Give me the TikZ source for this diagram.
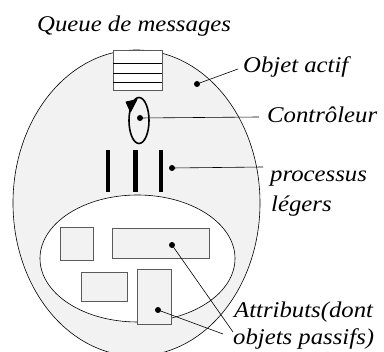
\documentclass[tikz,border=0pt]{standalone}
\usepackage{fontspec}
\setmainfont{Liberation Serif}[FakeStretch=1.1]
\usepackage{tikz}
\usetikzlibrary{arrows.meta, positioning, shapes.geometric}
\definecolor{objgray}{RGB}{242,242,242}
\definecolor{boxedge}{RGB}{90,90,90}

\begin{document}
\begin{tikzpicture}[x=1pt, y=-1pt,
  every node/.style={font=\fontsize{22.5}{25}\selectfont\itshape, inner sep=0pt},
  lbl/.style={anchor=base west},
  dot/.style={circle, fill=black, minimum size=6pt},
  attr/.style={draw=boxedge, fill=objgray, line width=0.8pt},
  lead/.style={line width=0.6pt}]
  \useasboundingbox (0,0) rectangle (384,352);
  \clip (0,0) rectangle (384,352);
  % objet actif et file de messages
  \node[ellipse, draw, fill=objgray, line width=0.6pt, minimum width=247pt, minimum height=306pt] (actif) at (136.5,203) {};
  \node[draw=boxedge, fill=white, line width=0.8pt, minimum width=49pt, minimum height=40pt] (queue) at (137.5,70) {};
  \foreach \yy in {63,73,82}
    \draw[line width=0.8pt] (113,\yy) -- (162,\yy);
  % controleur
  \node[ellipse, draw, line width=1.6pt, minimum width=20pt, minimum height=46pt] (ctrl) at (139,120.5) {};
  \fill[line join=round, draw, line width=0.8pt] (126,102) -- (137,99.5) -- (130.5,112) -- cycle;
  % processus legers
  \foreach \xx in {108,135.5,161}
    \draw[line width=4.5pt] (\xx,150) -- (\xx,192);
  % attributs
  \node[ellipse, draw, fill=white, line width=0.6pt, minimum width=195pt, minimum height=127pt] (attrs) at (137.5,258.5) {};
  \node[attr, minimum width=33pt, minimum height=33pt] (r1) at (76.5,243.5) {};
  \node[attr, minimum width=97pt, minimum height=30pt] (r2) at (160.5,243) {};
  \node[attr, minimum width=46pt, minimum height=29pt] (r3) at (104,286.5) {};
  \node[attr, minimum width=34pt, minimum height=55pt] (r4) at (154,296.5) {};
  % points et legendes
  \node[dot] (dActif) at (197,84) {};
  \node[dot] (dCtrl) at (140,118) {};
  \node[dot] (dProc) at (172,168) {};
  \node[dot] (dR2) at (172,245) {};
  \node[dot] (dR4) at (158,310) {};
  \coordinate (eActif) at (238,69);
  \coordinate (eCtrl) at (259,117);
  \coordinate (eProc) at (263,167);
  \coordinate (eR2) at (233,332);
  \coordinate (eR4) at (223,334);
  \draw[lead] (dActif.center) -- (eActif);
  \draw[lead] (dCtrl.center) -- (eCtrl);
  \draw[lead] (dProc.center) -- (eProc);
  \draw[lead] (dR2.center) -- (eR2);
  \draw[lead] (dR4.center) -- (eR4);
  \node[lbl] (tQueue) at (37,32) {Queue de messages};
  \node[lbl] (tActif) at (243,73) {Objet actif};
  \node[lbl] (tCtrl) at (267,123) {Contrôleur};
  \node[lbl] (tProc) at (270,182) {processus};
  \node[lbl] (tLeg) at (271,212) {légers};
  \node[lbl] (tAttr) at (234,318) {Attributs(dont};
  \node[lbl] (tPass) at (233,345) {objets passifs)};
\end{tikzpicture}
\end{document}
